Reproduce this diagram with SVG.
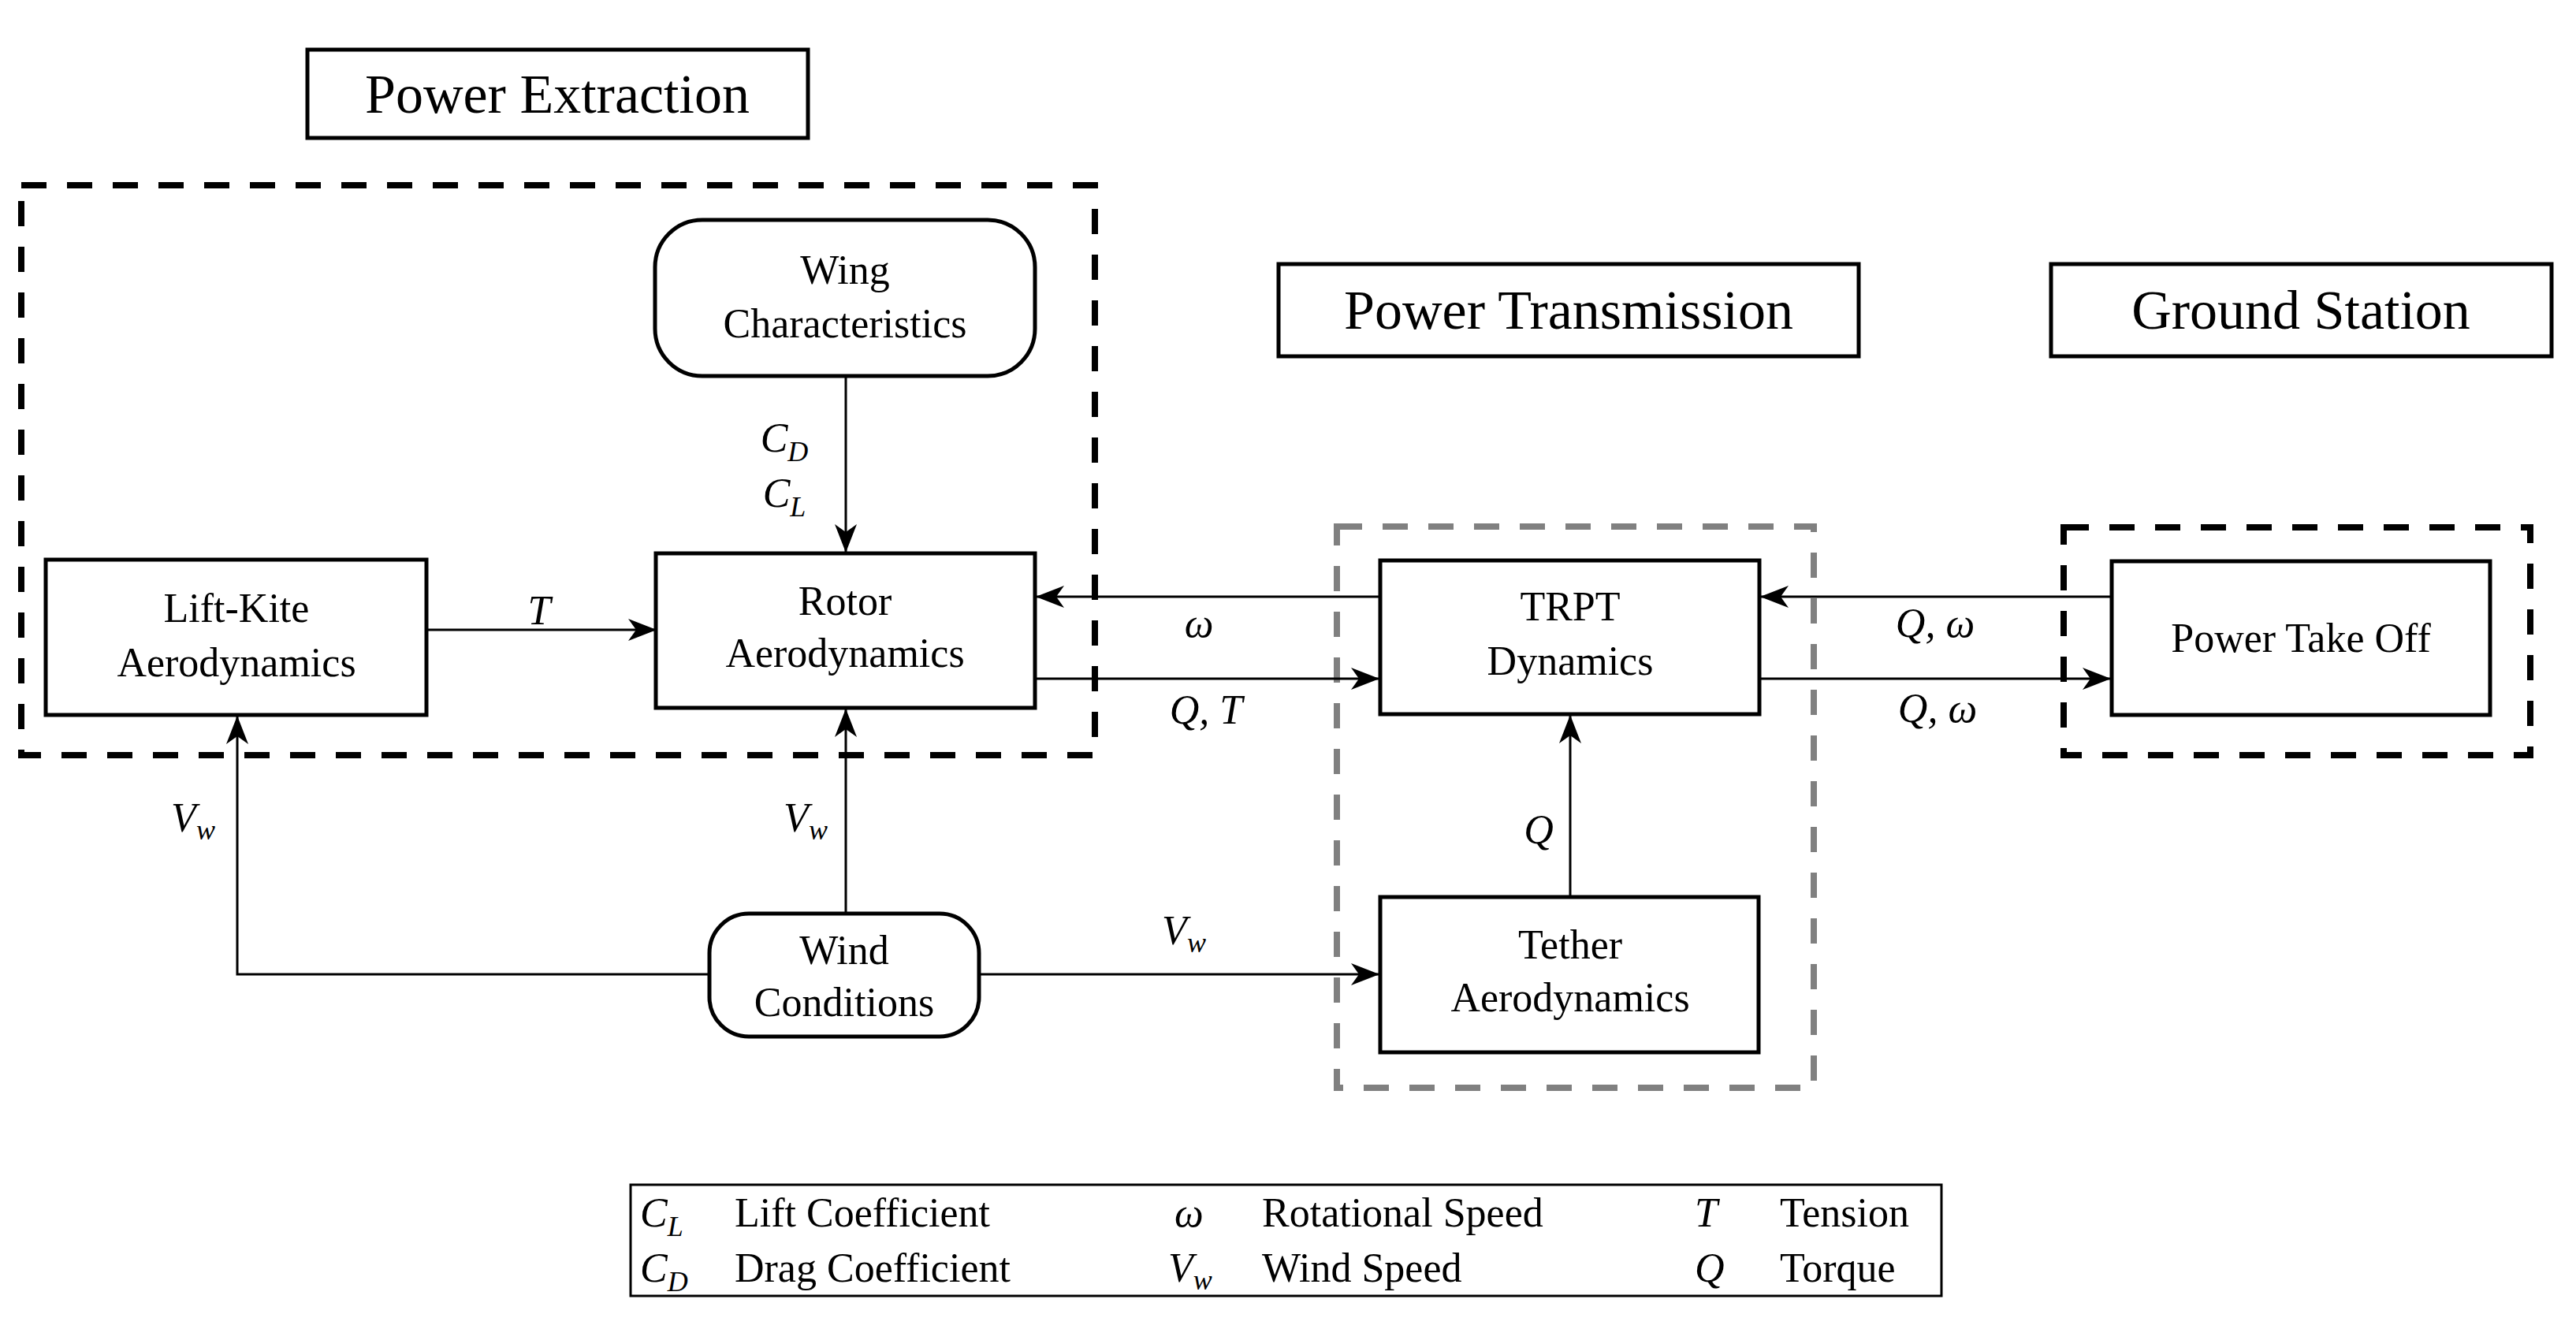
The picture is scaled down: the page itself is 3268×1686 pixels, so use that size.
<svg xmlns="http://www.w3.org/2000/svg" width="3268" height="1686" viewBox="0 0 3268 1686">
<style>
text{font-family:"Liberation Serif","DejaVu Serif",serif;fill:#000}
.n{font-size:52px;text-anchor:middle}
.t{font-size:70px;text-anchor:middle}
.m{font-size:52px;font-style:italic;text-anchor:middle}
.s{font-size:36px;font-style:italic}
.lg{font-size:52px}
.box{fill:#fff;stroke:#000;stroke-width:5}
.c{fill:none;stroke:#000;stroke-width:3}
.dash{fill:none;stroke-width:8;stroke-dasharray:32 26}
</style>
<defs>
<marker id="a" viewBox="0 0 20 16" refX="19" refY="8" markerWidth="20" markerHeight="16" markerUnits="userSpaceOnUse" orient="auto">
<path d="M0,0 L20,8 L0,16 L6,8 Z" fill="#000"/>
</marker>
<marker id="b" viewBox="0 0 36 28" refX="35" refY="14" markerWidth="36" markerHeight="28" markerUnits="userSpaceOnUse" orient="auto">
<path d="M0,0 L36,14 L0,28 L10,14 Z" fill="#000"/>
</marker>
</defs>
<rect width="3268" height="1686" fill="#fff"/>
<g id="groups">
<rect x="27" y="235" width="1362" height="723" class="dash" stroke="#000"/>
<rect x="1696" y="668" width="605" height="712" class="dash" stroke="#808080"/>
<rect x="2618" y="669" width="592" height="289" class="dash" stroke="#000" stroke-width="6" stroke-dasharray="26 20"/>
</g>
<g id="title-pe"><rect x="390" y="63" width="635" height="112" class="box"/><text class="t" x="707" y="143">Power Extraction</text></g>
<g id="title-pt"><rect x="1622" y="335" width="736" height="117" class="box" stroke="#808080"/><text class="t" x="1990" y="417">Power Transmission</text></g>
<g id="title-gs"><rect x="2602" y="335" width="635" height="117" class="box"/><text class="t" x="2919" y="417">Ground Station</text></g>
<g id="connectors">
<line class="c" x1="1073" y1="477" x2="1073" y2="700" marker-end="url(#b)"/>
<line class="c" x1="541" y1="799" x2="832" y2="799" marker-end="url(#b)"/>
<line class="c" x1="1751" y1="757" x2="1315" y2="757" marker-end="url(#b)"/>
<line class="c" x1="1313" y1="861" x2="1749" y2="861" marker-end="url(#b)"/>
<line class="c" x1="2679" y1="757" x2="2234" y2="757" marker-end="url(#b)"/>
<line class="c" x1="2232" y1="861" x2="2677" y2="861" marker-end="url(#b)"/>
<line class="c" x1="1992" y1="1138" x2="1992" y2="908" stroke-width="2" marker-end="url(#b)"/>
<line class="c" x1="1073" y1="1159" x2="1073" y2="900" marker-end="url(#b)"/>
<polyline class="c" points="900,1236 301,1236 301,909" marker-end="url(#b)"/>
<line class="c" x1="1242" y1="1236" x2="1749" y2="1236" marker-end="url(#b)"/>
</g>
<g id="labels">
<text class="m" x="995" y="573">C<tspan class="s" dy="12">D</tspan></text>
<text class="m" x="995" y="643">C<tspan class="s" dy="12">L</tspan></text>
<text class="m" x="684" y="792">T</text>
<text class="m" x="1521" y="808">ω</text>
<text class="m" x="1530" y="918">Q, T</text>
<text class="m" x="2455" y="808">Q, ω</text>
<text class="m" x="2458" y="916">Q, ω</text>
<text class="m" x="1952" y="1070">Q</text>
<text class="m" x="245" y="1055">V<tspan class="s" dy="10">w</tspan></text>
<text class="m" x="1022" y="1055">V<tspan class="s" dy="10">w</tspan></text>
<text class="m" x="1502" y="1198">V<tspan class="s" dy="10">w</tspan></text>
</g>
<g id="wing"><rect x="831" y="279" width="482" height="198" rx="60" class="box"/><text class="n" x="1072" y="360">Wing</text><text class="n" x="1072" y="428">Characteristics</text></g>
<g id="rotor"><rect x="832" y="702" width="481" height="196" class="box"/><text class="n" x="1072" y="780">Rotor</text><text class="n" x="1072" y="846">Aerodynamics</text></g>
<g id="liftkite"><rect x="58" y="710" width="483" height="197" class="box"/><text class="n" x="300" y="789">Lift-Kite</text><text class="n" x="300" y="858">Aerodynamics</text></g>
<g id="trpt"><rect x="1751" y="711" width="481" height="195" class="box"/><text class="n" x="1992" y="787">TRPT</text><text class="n" x="1992" y="856">Dynamics</text></g>
<g id="pto"><rect x="2679" y="712" width="480" height="195" class="box"/><text class="n" x="2919" y="827">Power Take Off</text></g>
<g id="tether"><rect x="1751" y="1138" width="480" height="197" class="box"/><text class="n" x="1992" y="1216">Tether</text><text class="n" x="1992" y="1283">Aerodynamics</text></g>
<g id="wind"><rect x="900" y="1159" width="342" height="156" rx="50" class="box"/><text class="n" x="1071" y="1223">Wind</text><text class="n" x="1071" y="1289">Conditions</text></g>
<g id="legend">
<rect x="800" y="1503" width="1663" height="141" fill="#fff" stroke="#000" stroke-width="3"/>
<text class="lg" x="812" y="1556" font-style="italic">C<tspan class="s" dy="12">L</tspan></text>
<text class="lg" x="932" y="1556">Lift Coefficient</text>
<text class="lg" x="1490" y="1556" font-style="italic">ω</text>
<text class="lg" x="1601" y="1556">Rotational Speed</text>
<text class="lg" x="2150" y="1556" font-style="italic">T</text>
<text class="lg" x="2258" y="1556">Tension</text>
<text class="lg" x="812" y="1626" font-style="italic">C<tspan class="s" dy="12">D</tspan></text>
<text class="lg" x="932" y="1626">Drag Coefficient</text>
<text class="lg" x="1482" y="1626" font-style="italic">V<tspan class="s" dy="10">w</tspan></text>
<text class="lg" x="1601" y="1626">Wind Speed</text>
<text class="lg" x="2150" y="1626" font-style="italic">Q</text>
<text class="lg" x="2258" y="1626">Torque</text>
</g>
</svg>
